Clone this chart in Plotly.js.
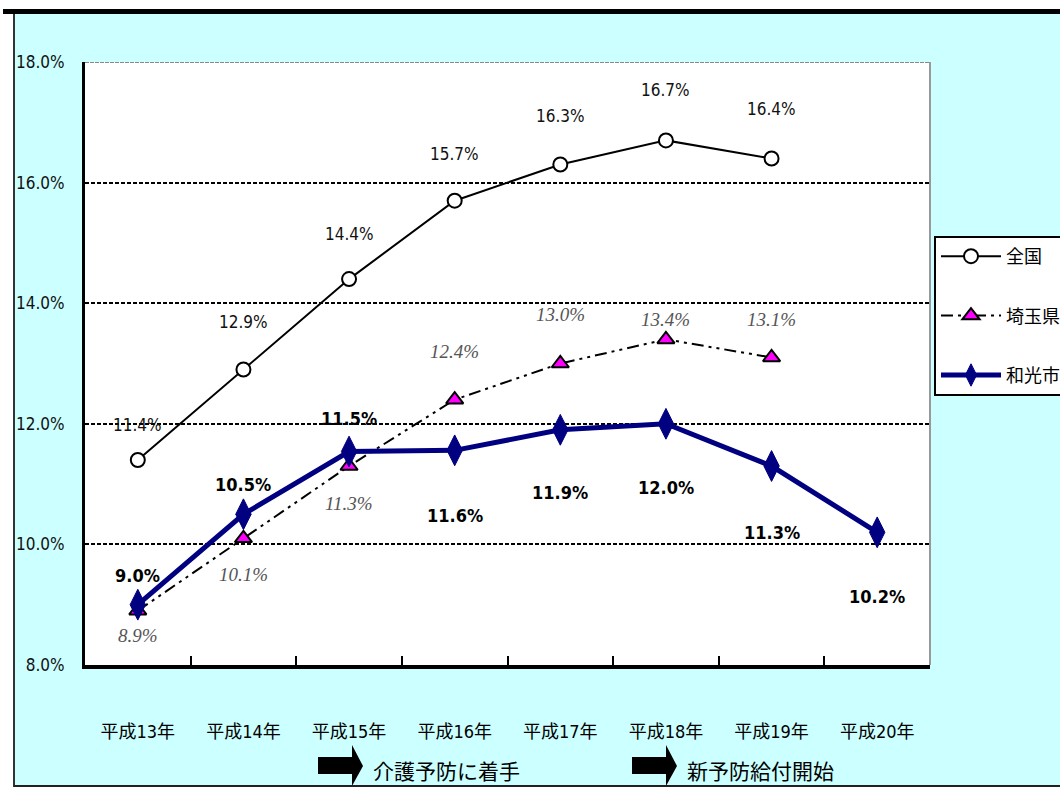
<!DOCTYPE html>
<html><head><meta charset="utf-8">
<script src="https://cdn.plot.ly/plotly-3.0.1.min.js"></script>
<style>
html,body{margin:0;padding:0;background:#fff;width:1060px;height:787px;overflow:hidden;}
#topline{position:absolute;left:3px;top:9px;width:1057px;height:5px;background:#000;}
#wrap{position:absolute;left:13px;top:14px;width:1047px;height:771px;border-left:2px solid #333;border-bottom:2px solid #222;background:#CCFFFF;}
#chart{width:1045px;height:771px;}
</style></head>
<body>
<div id="topline"></div>
<div id="wrap"><div id="chart"></div></div>
<script>
const categories = ['平成13年','平成14年','平成15年','平成16年','平成17年','平成18年','平成19年','平成20年'];
const seriesNames = ['全国','埼玉県','和光市'];
const zenkoku = [11.4, 12.9, 14.4, 15.7, 16.3, 16.7, 16.4, null];
const saitama = [8.9, 10.1, 11.3, 12.4, 13.0, 13.4, 13.1, null];
const wako    = [9.0, 10.5, 11.54, 11.56, 11.9, 12.0, 11.3, 10.2];
const zenkokuLabels = ['11.4%','12.9%','14.4%','15.7%','16.3%','16.7%','16.4%',''];
const saitamaLabels = ['8.9%','10.1%','11.3%','12.4%','13.0%','13.4%','13.1%',''];
const wakoLabels    = ['9.0%','10.5%','11.5%','11.6%','11.9%','12.0%','11.3%','10.2%'];
const notes = ['介護予防に着手','新予防給付開始'];

// label offsets (pixels, styling only)
const zShift = [35,48,45,47,49,50,49,0];
const sShift = [-25,-36,-37,48,49,20,38,0];
const wShift = [29,30,33,-65,-63,-64,-66,-64];

const NARROW = '"DejaVu Sans Condensed","Liberation Sans Narrow","Arial Narrow",sans-serif';
const CJK = '"Noto Sans CJK JP",sans-serif';
const TICK = '"DejaVu Sans Condensed","Noto Sans CJK JP",sans-serif';

const traces = [
  {x:categories, y:zenkoku, name:seriesNames[0], type:'scatter', mode:'lines+markers', legendgroup:'a',
   line:{color:'#000', width:2}, marker:{symbol:'circle', size:14, color:'#fff', line:{color:'#000', width:2}}},
  {x:categories, y:saitama, name:seriesNames[1], type:'scatter', mode:'lines+markers', legendgroup:'b',
   line:{color:'#000', width:2, dash:'12px,5px,3px,5px,3px,5px'},
   marker:{symbol:'triangle-up', size:15, color:'#FF00FF', line:{color:'#000', width:2}}},
  {x:categories, y:wako, name:seriesNames[2], type:'scatter', mode:'lines+markers', legendgroup:'c',
   line:{color:'#000080', width:5}, marker:{symbol:'diamond-tall', size:22, color:'#000080', line:{color:'#000080', width:1}}}
];

const ann = [];
function addLabels(vals, labels, shifts, font){
  vals.forEach((v,i)=>{ if(v==null||!labels[i]) return;
    ann.push({x:categories[i], y:v, xref:'x', yref:'y', text:labels[i], showarrow:false, yshift:shifts[i], font:font});
  });
}
addLabels(zenkoku, zenkokuLabels, zShift, {family:NARROW, size:17, color:'#111'});
addLabels(saitama, saitamaLabels, sShift, {family:'"Liberation Serif","Times New Roman",serif', size:19, color:'#555', style:'italic'});
addLabels(wako, wakoLabels, wShift, {family:NARROW, size:18, color:'#000', weight:'bold'});

const px = x => (x-85)/845;
const py = y => (665-y)/603;
ann.push({xref:'paper', yref:'paper', x:px(371), y:py(770), xanchor:'left', yanchor:'middle', text:notes[0], showarrow:false, font:{family:CJK, size:21, color:'#000'}});
ann.push({xref:'paper', yref:'paper', x:px(685), y:py(770), xanchor:'left', yanchor:'middle', text:notes[1], showarrow:false, font:{family:CJK, size:21, color:'#000'}});

function arrowPath(x0){
  const b1=x0, b2=x0+34, tip=x0+45;
  return 'M'+px(b1)+','+py(757)+' L'+px(b2)+','+py(757)+' L'+px(b2)+','+py(745)+' L'+px(tip)+','+py(766)+
         ' L'+px(b2)+','+py(786)+' L'+px(b2)+','+py(774)+' L'+px(b1)+','+py(774)+' Z';
}

const shapes = [
  {type:'line', xref:'paper', yref:'y', x0:0, x1:1, y0:18, y1:18, line:{color:'#fff', width:3}},
  {type:'line', xref:'paper', yref:'y', x0:0, x1:1, y0:18, y1:18, line:{color:'#888', width:2, dash:'4px,1px'}},
  {type:'line', xref:'paper', yref:'paper', x0:1, x1:1, y0:0, y1:1, line:{color:'#999', width:2}},
  {type:'path', xref:'paper', yref:'paper', path:arrowPath(318), fillcolor:'#000', line:{color:'#000', width:0}},
  {type:'path', xref:'paper', yref:'paper', path:arrowPath(632), fillcolor:'#000', line:{color:'#000', width:0}}
];

const layout = {
  width:1045, height:771,
  margin:{l:70, r:130, t:48, b:120, autoexpand:false},
  paper_bgcolor:'#CCFFFF', plot_bgcolor:'#fff',
  showlegend:true,
  legend:{x:px(934), y:py(236), xanchor:'left', yanchor:'top', bgcolor:'#fff', bordercolor:'#000', borderwidth:2,
          font:{family:CJK, size:18, color:'#000'}, tracegroupgap:33, itemwidth:60},
  xaxis:{type:'category', range:[-0.5,7.5], showgrid:false, tickson:'boundaries', ticks:'inside', ticklen:9, tickwidth:2, tickcolor:'#000',
         showline:true, linecolor:'#000', linewidth:4, ticklabelstandoff:47,
         tickfont:{family:TICK, size:18, color:'#000'}, fixedrange:true},
  yaxis:{range:[8,18], dtick:2, tickformat:'.1f', ticksuffix:'%', showgrid:true, gridcolor:'#000', gridwidth:2, griddash:'4px,2px',
         showline:true, linecolor:'#000', linewidth:3, ticks:'', ticklabelstandoff:14, zeroline:false,
         tickfont:{family:NARROW, size:17, color:'#111'}, fixedrange:true},
  annotations:ann, shapes:shapes
};

Plotly.newPlot('chart', traces, layout, {displayModeBar:false, staticPlot:true});
</script>
</body></html>
